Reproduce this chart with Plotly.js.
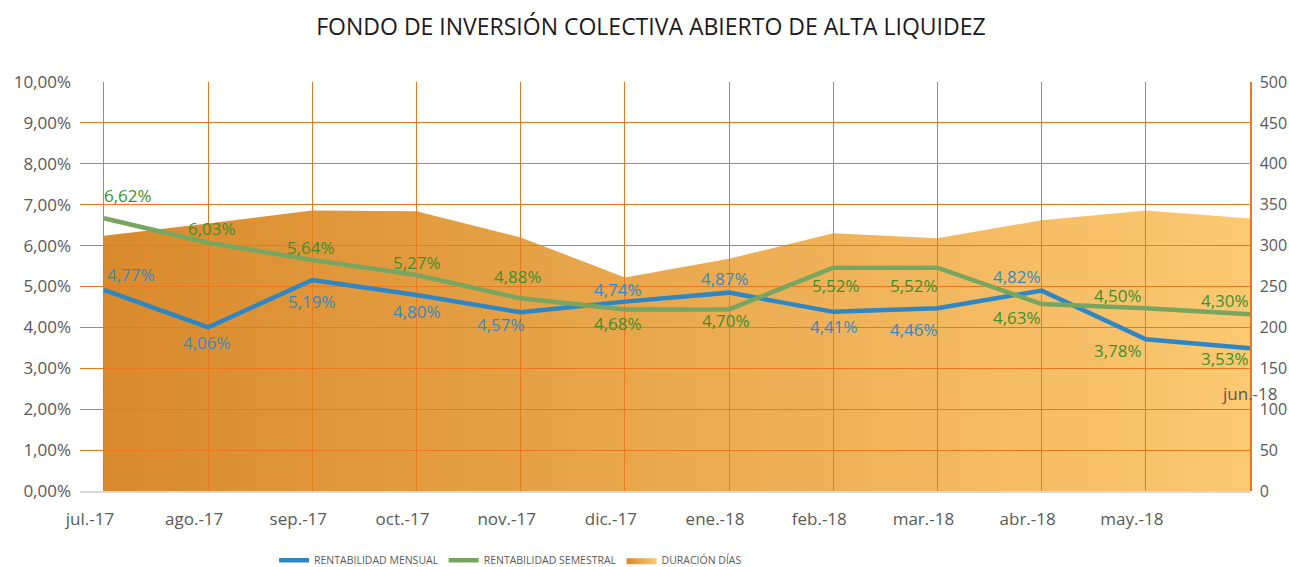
<!DOCTYPE html>
<html><head><meta charset="utf-8">
<script src="https://cdn.plot.ly/plotly-3.0.1.min.js"></script>
<style>html,body{margin:0;padding:0;background:#fff}#chart{width:1289px;height:567px}</style>
</head><body><div id="chart"></div>
<script>
// ---- data ----
const months = ['jul.-17','ago.-17','sep.-17','oct.-17','nov.-17','dic.-17','ene.-18','feb.-18','mar.-18','abr.-18','may.-18','jun.-18'];
const mensual = [0.0492, 0.0400, 0.0516, 0.0479, 0.0437, 0.0463, 0.0485, 0.0438, 0.0447, 0.0490, 0.0371, 0.0349];
const semestral = [0.0667, 0.0607, 0.0565, 0.0528, 0.0471, 0.0444, 0.0444, 0.0546, 0.0546, 0.0457, 0.0447, 0.0432];
const dias = [312, 327, 343, 342, 310, 261, 284, 315, 309, 331, 343, 333];
const mensualLabels = ['4,77%','4,06%','5,19%','4,80%','4,57%','4,74%','4,87%','4,41%','4,46%','4,82%','3,78%','3,53%'];
const semestralLabels = ['6,62%','6,03%','5,64%','5,27%','4,88%','4,68%','4,70%','5,52%','5,52%','4,63%','4,50%','4,30%'];
const xTickLabels = months.slice(0, 11);

// ---- style ----
const BLUE = '#2E86C4', GREEN = '#78A55F', BLUE_TXT = '#3489C6', GREEN_TXT = '#3F8F2E';
const GRID = '#E9781F', GREY = '#595959';
const FONT = '"Open Sans", "Noto Sans", sans-serif';
// label offsets in px (dx, dy downwards) relative to each point
const mOff = [[27,-15],[-1,15],[0,22],[0,16],[-20,12],[-7,-12],[-4,-14],[1,15],[-23,21],[-25,-14],[-28,11],[-25,10]];
const sOff = [[24,-23],[4,-14],[-1,-12],[0,-13],[-3,-22],[-7,14],[-3,11],[3,18],[-23,18],[-25,13],[-28,-13],[-25,-14]];
const mColor = months.map((m,i)=> i>=10 ? GREEN_TXT : BLUE_TXT);

const traces = [
  {x: months, y: mensual, xaxis:'x2', yaxis:'y2', type:'scatter', mode:'lines',
   name:'RENTABILIDAD MENSUAL', line:{color:BLUE, width:4.5}, hoverinfo:'skip'},
  {x: months, y: semestral, xaxis:'x2', yaxis:'y2', type:'scatter', mode:'lines',
   name:'RENTABILIDAD SEMESTRAL', line:{color:GREEN, width:4.5}, hoverinfo:'skip'},
  {x: months, y: dias, xaxis:'x', yaxis:'y', type:'scatter', mode:'lines', fill:'tozeroy',
   name:'DURACIÓN DÍAS', line:{width:0, color:'#EDAE55'},
   fillgradient:{type:'horizontal', colorscale:[[0,'#D98A2C'],[1,'#FCC972']]}, hoverinfo:'skip'}
];

const annotations = [];
months.forEach((m,i)=>{
  annotations.push({x:m, y:mensual[i], xref:'x2', yref:'y2', text:mensualLabels[i], showarrow:false,
    xshift:mOff[i][0], yshift:-mOff[i][1], font:{family:FONT, size:17, color:mColor[i]}});
  annotations.push({x:m, y:semestral[i], xref:'x2', yref:'y2', text:semestralLabels[i], showarrow:false,
    xshift:sOff[i][0], yshift:-sOff[i][1], font:{family:FONT, size:17, color:GREEN_TXT}});
});
annotations.push({x:months[11], xref:'x2', y:0.205, yref:'paper', text:months[11], showarrow:false,
  font:{family:FONT, size:17, color:GREY}});

const xr = [-0.23, 11];
const layout = {
  width:1289, height:567,
  margin:{l:80, r:39, t:82, b:76, pad:0},
  paper_bgcolor:'#ffffff', plot_bgcolor:'rgba(0,0,0,0)',
  separators:',.',
  font:{family:FONT, color:GREY},
  title:{text:'FONDO DE INVERSIÓN COLECTIVA ABIERTO DE ALTA LIQUIDEZ', x:0.505, xanchor:'center',
    y:0.953, yanchor:'middle', font:{family:FONT, size:23, color:'#1a1a1a'}},
  showlegend:true,
  legend:{orientation:'h', x:0.368, xanchor:'center', yref:'container', y:0.012, yanchor:'middle',
    font:{family:FONT, size:10.5, color:GREY}, itemwidth:30, traceorder:'normal'},
  xaxis:{type:'category', range:xr, anchor:'y', showgrid:false, showticklabels:false, zeroline:false},
  yaxis:{range:[0,500], dtick:50, side:'right', anchor:'x', showgrid:false, zeroline:false,
    showline:true, linecolor:GRID, linewidth:1.5,
    tickfont:{family:FONT, size:16, color:GREY}, ticklabelstandoff:5},
  xaxis2:{type:'category', range:xr, anchor:'y2', showgrid:true, gridcolor:GRID, gridwidth:1,
    tickvals:xTickLabels, ticktext:xTickLabels, ticklabelshift:-14, ticks:'',
    tickfont:{family:FONT, size:17, color:GREY}, ticklabelstandoff:12,
    zeroline:false, showline:true, linecolor:'#d9d9d9', linewidth:1.5},
  yaxis2:{range:[0,0.1], dtick:0.01, tickformat:'.2%', anchor:'x2', side:'left',
    showgrid:true, gridcolor:GRID, gridwidth:1, zeroline:false,
    tickfont:{family:FONT, size:17, color:GREY}, ticklabelstandoff:8},
  annotations: annotations
};

Plotly.newPlot('chart', traces, layout, {displayModeBar:false, staticPlot:true});
</script></body></html>
